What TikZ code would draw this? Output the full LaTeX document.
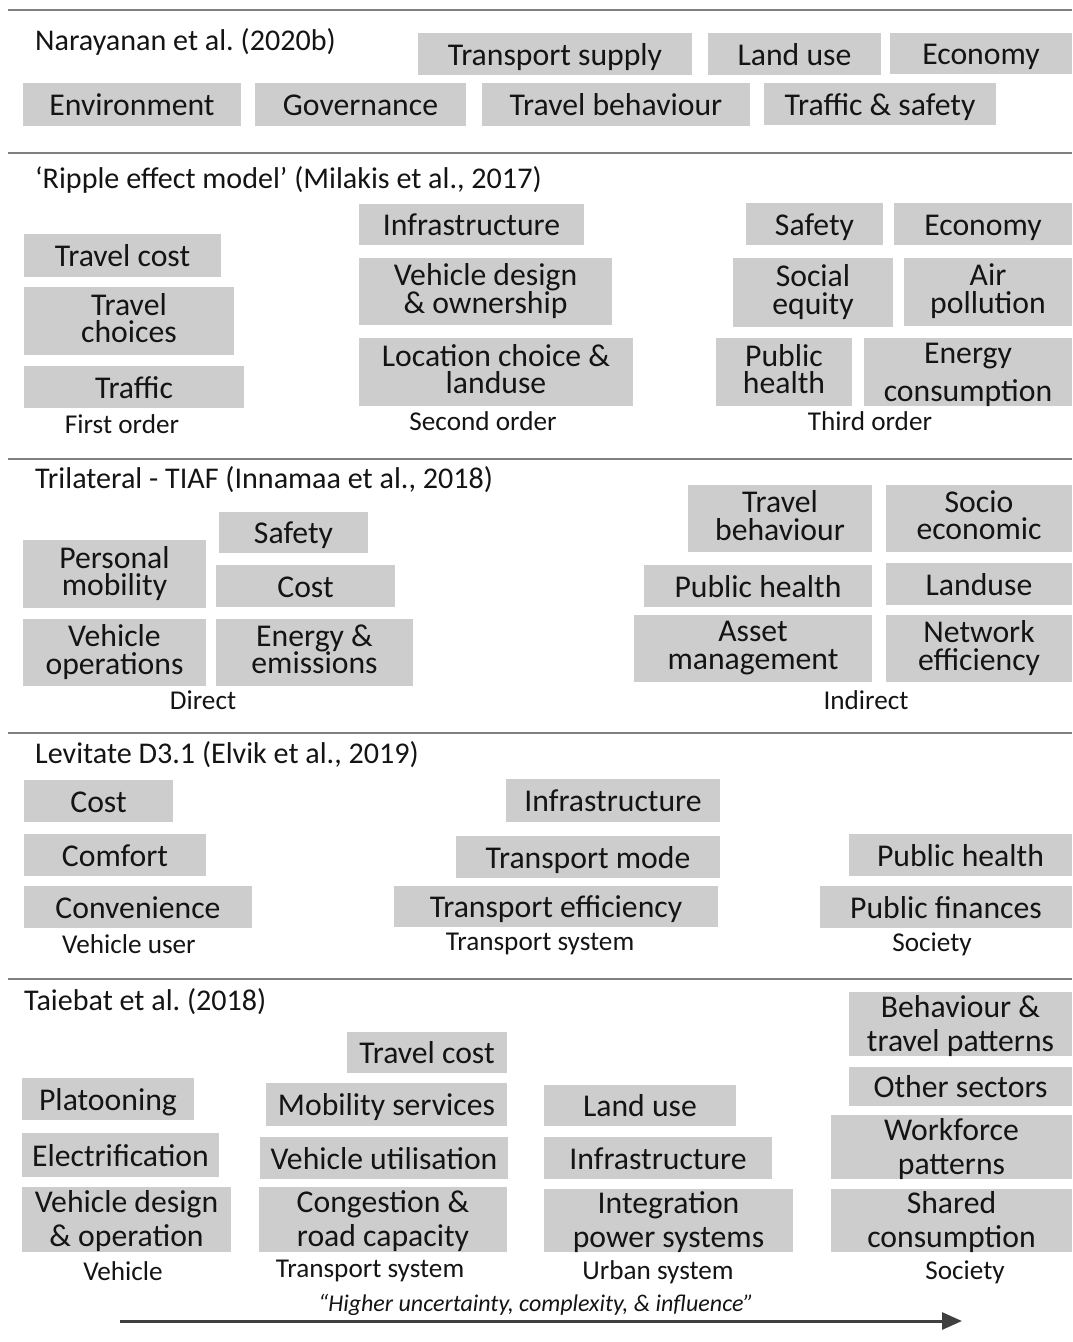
\documentclass[tikz,border=0pt]{standalone}
\usepackage{fontspec}
\setmainfont{Carlito}
\usetikzlibrary{arrows.meta}
\frenchspacing

\definecolor{cellgray}{HTML}{CDCDCD}
\definecolor{rulegray}{HTML}{7F7F7F}
\definecolor{arrowgray}{HTML}{404040}
\definecolor{inkblack}{HTML}{141414}

% one grey cell, given by its corners (x1,y1) and (x2,y2), y counted downwards
\newcommand\cellbox[7][]{%
  \node[cell,#1,minimum width={(#5)-(#3)},minimum height={(#6)-(#4)}]
    (#2) at ({((#3)+(#5))/2},{((#4)+(#6))/2}) {#7};}
% fixed line heights so that every cell text is centred alike
\newcommand\topstrut{\lineskiplimit=-50pt\relax\leavevmode\vrule width 0pt height 22pt depth 0pt\relax}
\newcommand\botstrut{\vrule width 0pt height 0pt depth 6.5pt\relax}

\begin{document}
\begin{tikzpicture}[x=1pt,y=-1pt,
  cell/.style={fill=cellgray,inner sep=0pt,outer sep=0pt,align=center,
    text=inkblack,font=\fontsize{31.7}{27.5}\selectfont,
    execute at begin node=\topstrut,execute at end node=\botstrut},
  one/.style={text height=22pt,text depth=0pt},
  % a shallower text box lowers the lines inside their cell
  loose/.style={font=\fontsize{31.7}{34}\selectfont,text depth=1.5pt},
  heading/.style={anchor=west,inner sep=0pt,text=inkblack,
    font=\fontsize{30.1}{32}\selectfont},
  caption/.style={inner sep=0pt,text=inkblack,font=\fontsize{27.2}{28}\selectfont},
  sepline/.style={draw=rulegray,line width=2.7pt},
  trend/.style={draw=arrowgray,line width=3pt,-{Triangle[length=20pt,width=17pt]}}]

\useasboundingbox (0,0) rectangle (1072,1342);

% separators between the five frameworks
\foreach \yy in {10,153,459,733,979}
  \draw[sepline] (8,\yy) -- (1072,\yy);

% ---- Narayanan et al.
\node[heading] (h1) at (35,42) {Narayanan et al. (2020b)};
\cellbox[one]{n1}{418}{33}{692}{75}{Transport supply}
\cellbox[one]{n2}{708}{33}{881}{75}{Land use}
\cellbox[one]{n3}{890}{33}{1072}{74}{Economy}
\cellbox[one]{n4}{23}{83}{241}{126}{Environment}
\cellbox[one]{n5}{255}{83}{466}{126}{Governance}
\cellbox[one]{n6}{482}{83}{750}{126}{Travel behaviour}
\cellbox[one]{n7}{764}{83}{996}{125}{Traffic \& safety}

% ---- Ripple effect model
\node[heading] (h2) at (35,180) {‘Ripple effect model’ (Milakis et al., 2017)};
\cellbox[one]{r1}{24}{234}{221}{277}{Travel cost}
\cellbox{r2}{24}{287}{234}{355}{Travel\\choices}
\cellbox[one]{r3}{24}{366}{244}{408}{Traffic}
\node[caption] (c1) at (122,424) {First order};
\cellbox[one]{r4}{359}{204}{584}{245}{Infrastructure}
\cellbox{r5}{359}{258}{612}{325}{Vehicle design\\\& ownership}
\cellbox{r6}{359}{338}{633}{406}{Location choice \&\\landuse}
\node[caption] (c2) at (483,421) {Second order};
\cellbox[one]{r7}{746}{203}{883}{245}{Safety}
\cellbox[one]{r8}{894}{203}{1072}{245}{Economy}
\cellbox{r9}{733}{258}{893}{327}{Social\\equity}
\cellbox{r10}{904}{258}{1072}{326}{Air\\pollution}
\cellbox{r11}{716}{338}{852}{406}{Public\\health}
\cellbox[font=\fontsize{31.7}{38}\selectfont,text depth=-2.5pt]{r12}{864}{338}{1072}{406}{Energy\\consumption}
\node[caption] (c3) at (870,421) {Third order};

% ---- Trilateral impact assessment framework
\node[heading] (h3) at (35,480) {Trilateral - TIAF (Innamaa et al., 2018)};
\cellbox[one]{t1}{219}{512}{368}{553}{Safety}
\cellbox{t2}{23}{540}{206}{608}{Personal\\mobility}
\cellbox[one]{t3}{216}{565}{395}{607}{Cost}
\cellbox{t4}{23}{619}{206}{686}{Vehicle\\operations}
\cellbox{t5}{216}{619}{413}{686}{Energy \&\\emissions}
\node[caption] (c4) at (203,700) {Direct};
\cellbox{t6}{688}{485}{872}{552}{Travel\\behaviour}
\cellbox{t7}{886}{485}{1072}{552}{Socio\\economic}
\cellbox[one]{t8}{644}{565}{872}{607}{Public health}
\cellbox[one]{t9}{886}{563}{1072}{605}{Landuse}
\cellbox{t10}{634}{615}{872}{682}{Asset\\management}
\cellbox{t11}{886}{615}{1072}{682}{Network\\efficiency}
\node[caption] (c5) at (866,700) {Indirect};

% ---- Levitate
\node[heading] (h4) at (35,755) {Levitate D3.1 (Elvik et al., 2019)};
\cellbox[one]{l1}{24}{780}{173}{822}{Cost}
\cellbox[one]{l2}{24}{834}{206}{876}{Comfort}
\cellbox[one]{l3}{24}{886}{252}{928}{Convenience}
\node[caption] (c6) at (129,944) {Vehicle user};
\cellbox[one]{l4}{506}{779}{720}{822}{Infrastructure}
\cellbox[one]{l5}{456}{836}{720}{878}{Transport mode}
\cellbox[one]{l6}{394}{886}{718}{927}{Transport efficiency}
\node[caption] (c7) at (540,944) {Transport system};
\cellbox[one]{l7}{849}{834}{1072}{876}{Public health}
\cellbox[one]{l8}{820}{886}{1072}{928}{Public finances}
\node[caption] (c8) at (932,944) {Society};

% ---- Taiebat et al.
\node[heading] (h5) at (24,1002) {Taiebat et al. (2018)};
\cellbox[one]{b1}{347}{1032}{507}{1073}{Travel cost}
\cellbox[one]{b2}{22}{1078}{194}{1120}{Platooning}
\cellbox[one]{b3}{22}{1133}{219}{1177}{Electrification}
\cellbox[loose]{b4}{22}{1187}{231}{1252}{Vehicle design\\\& operation}
\node[caption] (c9) at (123,1271) {Vehicle};
\cellbox[one]{b5}{266}{1083}{507}{1126}{Mobility services}
\cellbox[one]{b6}{260}{1137}{508}{1179}{Vehicle utilisation}
\cellbox[loose]{b7}{259}{1187}{507}{1252}{Congestion \&\\road capacity}
\node[caption] (c10) at (370,1271) {Transport system};
\cellbox[one]{b8}{544}{1085}{736}{1126}{Land use}
\cellbox[one]{b9}{544}{1137}{772}{1179}{Infrastructure}
\cellbox[loose]{b10}{544}{1189}{793}{1252}{Integration\\power systems}
\node[caption] (c11) at (658,1272) {Urban system};
\cellbox[loose]{b11}{849}{992}{1072}{1056}{Behaviour \&\\travel patterns}
\cellbox[one]{b12}{849}{1067}{1072}{1106}{Other sectors}
\cellbox[loose]{b13}{831}{1115}{1072}{1179}{Workforce\\patterns}
\cellbox[loose]{b14}{831}{1189}{1072}{1252}{Shared\\consumption}
\node[caption] (c12) at (965,1272) {Society};

% direction of increasing uncertainty
\node[inner sep=0pt,text=inkblack,font=\itshape\fontsize{24}{26}\selectfont]
  (trendlabel) at (536,1305) {“Higher uncertainty, complexity, \& influence”};
\coordinate (trendstart) at (120,1321);
\coordinate (trendend) at (962,1321);
\draw[trend] (trendstart) -- (trendend);

\end{tikzpicture}
\end{document}
